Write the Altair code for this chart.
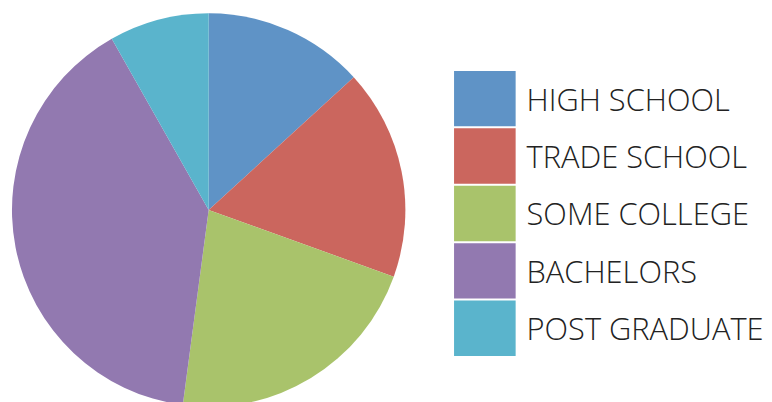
import altair as alt
import pandas as pd

categories = ["HIGH SCHOOL", "TRADE SCHOOL", "SOME COLLEGE", "BACHELORS", "POST GRADUATE"]
shares = [13.2, 17.3, 21.6, 39.7, 8.2]
colors = ["#5f93c6", "#cb665e", "#a9c36b", "#9279b0", "#5ab4cc"]

df = pd.DataFrame({"category": categories, "share": shares, "order": list(range(len(categories)))})

color_scale = alt.Scale(domain=categories, range=colors)

pie = alt.Chart(df).mark_arc(radius=198, strokeWidth=0).encode(
    theta=alt.Theta("share:Q", stack=True),
    color=alt.Color("category:N", scale=color_scale, legend=None),
    order=alt.Order("order:Q"),
).properties(width=404, height=404)

y_enc = alt.Y("category:N", sort=categories, axis=None,
              scale=alt.Scale(range=[62, 349], paddingInner=0.035, paddingOuter=0))

swatches = alt.Chart(df).mark_rect().encode(
    x=alt.value(0), x2=alt.value(62),
    y=y_enc,
    color=alt.Color("category:N", scale=color_scale, legend=None),
)
labels = alt.Chart(df).mark_text(
    align="left", baseline="middle", font="Open Sans", fontWeight=300,
    fontSize=31, color="#222222", dy=3,
).encode(
    x=alt.value(73),
    y=y_enc,
    text="category:N",
)
legend = (swatches + labels).properties(width=300, height=404)

chart = alt.hconcat(pie, legend, spacing=45).properties(padding=0).configure_view(stroke=None)

chart.save("out.html", embed_options={"renderer": "svg", "actions": False})
